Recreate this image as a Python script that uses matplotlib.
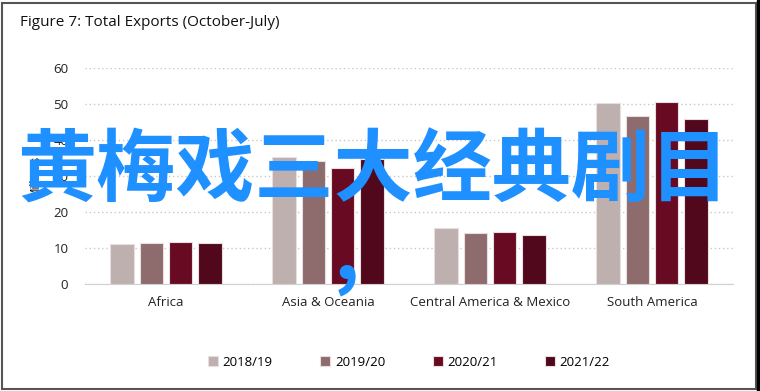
import numpy as np
import matplotlib.pyplot as plt
from matplotlib.patches import Rectangle

regions = ["Africa", "Asia & Oceania", "Central America & Mexico", "South America"]
seasons = ["2018/19", "2019/20", "2020/21", "2021/22"]
colors = ["#bfb0b0", "#8e6b6d", "#680a22", "#52081c"]

# millions
v_1819 = [11.0, 35.4, 15.6, 50.2]
v_1920 = [11.5, 34.2, 14.3, 46.7]
v_2021 = [11.8, 32.2, 14.4, 50.6]
v_2122 = [11.3, 34.7, 13.5, 45.7]
values = [v_1819, v_1920, v_2021, v_2122]

plt.rcParams['font.family'] = ['Open Sans', 'DejaVu Sans']

fig = plt.figure(figsize=(7.6, 3.91), dpi=100)
ax = fig.add_axes([85/760, 107/391, 648/760, 216/391])

x = np.arange(len(regions))
step = 0.181
width = 0.144
for i, s in enumerate(seasons):
    ax.bar(x + (i - 1.5) * step, values[i], width, color=colors[i],
           edgecolor="#e9dede", linewidth=0.8, label=s, zorder=3)

ax.set_xlim(-0.5, 3.5)
ax.set_ylim(0, 60)
ax.set_yticks(range(0, 61, 10))
ax.set_xticks(x)
ax.set_xticklabels(regions, fontsize=9.5)
ax.tick_params(length=0, labelsize=9.5, colors="#222222")
ax.tick_params(axis='x', pad=9)
ax.tick_params(axis='y', pad=12)
ax.grid(axis='y', linestyle=(0, (1, 2)), color="#c8c8c8", linewidth=1, zorder=0)
for sp in ["top", "right", "left"]:
    ax.spines[sp].set_visible(False)
ax.spines["bottom"].set_color("#d0d0d0")
ax.set_ylabel("Millions", fontsize=8.5, labelpad=8)

fig.text(20/760, 1 - 22/391, "Figure 7: Total Exports (October-July)",
         fontsize=11, va="center", ha="left", color="#111111")

fig.legend(loc="center", bbox_to_anchor=(409/760, 1 - 362/391), ncol=4,
           frameon=False, fontsize=9.5, handlelength=0.75, handleheight=0.75,
           columnspacing=3.6, handletextpad=0.35)

# overlay text
fig.text(373/760, 1 - 172/391, "黄梅戏三大经典剧目", fontsize=57, fontweight="bold",
         color="#1e90ff", ha="center", va="center",
         family=["Noto Sans CJK SC", "DejaVu Sans"])
fig.text(347/760, 1 - 255/391, ",", fontsize=57, fontweight="bold",
         color="#1e90ff", ha="center", va="center",
         family=["Noto Sans CJK SC", "DejaVu Sans"])

# frame
fig.patches.append(Rectangle((2/760, 2/391), 754/760, 386/391, transform=fig.transFigure,
                             fill=False, edgecolor="#555555", linewidth=1.5))
fig.patches.append(Rectangle((757/760, 0), 3/760, 1, transform=fig.transFigure,
                             color="black"))

fig.savefig("out.png", dpi=100)
